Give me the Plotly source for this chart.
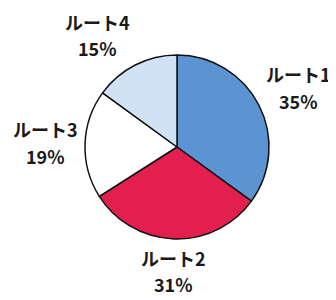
import plotly.graph_objects as go

labels = ["ルート1", "ルート2", "ルート3", "ルート4"]
values = [35, 31, 19, 15]
colors = ["#5b93d3", "#e21f4e", "#ffffff", "#cfe3f5"]

# page has an 8px body margin: figure occupies window minus offset
OFF = 8
W, H = 336 - OFF, 300 - OFF
cx, cy, r = 177 - OFF, 147 - OFF, 92

# label centres in window pixels: (x, y_name, y_pct)
label_pos = [(298, 74, 101), (173, 258, 284), (45, 129, 156), (97, 22, 48)]


def px(x):
    return (x - OFF) / W


def py(y):
    return 1 - (y - OFF) / H


fig = go.Figure(go.Pie(
    labels=labels, values=values, sort=False, direction="clockwise", rotation=0,
    marker=dict(colors=colors, line=dict(color="#111111", width=1.5)),
    textinfo="none", hoverinfo="label+percent", showlegend=False,
    domain=dict(x=[(cx - r) / W, (cx + r) / W], y=[(H - cy - r) / H, (H - cy + r) / H]),
))

font = dict(family="Noto Sans CJK JP", size=18, color="#1a1a1a")
for lab, v, (x, y1, y2) in zip(labels, values, label_pos):
    fig.add_annotation(x=px(x), y=py(y1), xref="paper", yref="paper", text=f"<b>{lab}</b>",
                       showarrow=False, xanchor="center", yanchor="middle", font=font)
    fig.add_annotation(x=px(x), y=py(y2), xref="paper", yref="paper", text=f"<b>{v}%</b>",
                       showarrow=False, xanchor="center", yanchor="middle", font=font)

fig.update_layout(width=W, height=H, margin=dict(l=0, r=0, t=0, b=0),
                  paper_bgcolor="white", plot_bgcolor="white")
fig.write_html("out.html")
